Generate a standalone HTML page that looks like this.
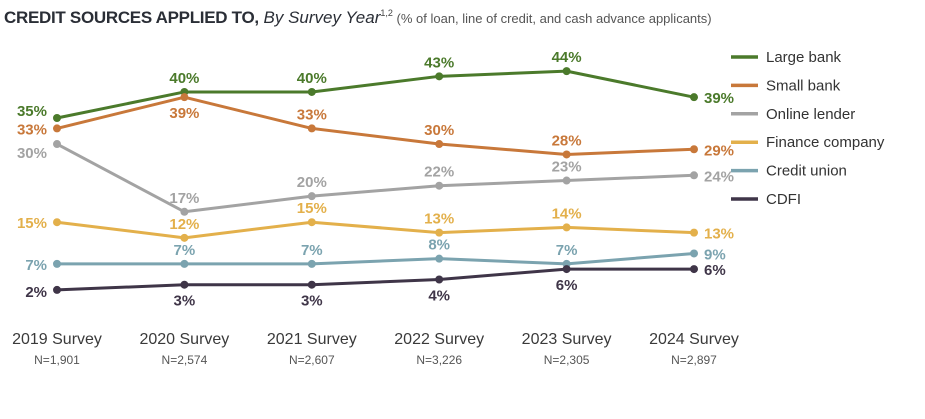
<!DOCTYPE html>
<html><head><meta charset="utf-8"><style>
body{margin:0;background:#fff;font-family:"Liberation Sans",sans-serif;}
svg text{font-family:"Liberation Sans",sans-serif;}
</style></head><body>
<svg id="chart" width="925" height="414" viewBox="0 0 925 414">
<text x="4" y="23"><tspan font-weight="bold" font-size="17" fill="#2a2e36" letter-spacing="-0.3">CREDIT SOURCES APPLIED TO,</tspan><tspan font-style="italic" font-size="17" fill="#2a2e36"> By Survey Year</tspan><tspan font-size="9" dy="-7" fill="#444">1,2</tspan><tspan font-size="13" dy="7" fill="#555">  (% of loan, line of credit, and cash advance applicants)</tspan></text>
<g id="plot"></g>
<g id="legend"></g>
</svg>
<script>
const categories=["2019 Survey","2020 Survey","2021 Survey","2022 Survey","2023 Survey","2024 Survey"];
const sampleSizes=["N=1,901","N=2,574","N=2,607","N=3,226","N=2,305","N=2,897"];
const seriesNames=["Large bank","Small bank","Online lender","Finance company","Credit union","CDFI"];
const largeBank=[35,40,40,43,44,39];
const smallBank=[33,39,33,30,28,29];
const onlineLender=[30,17,20,22,23,24];
const financeCompany=[15,12,15,13,14,13];
const creditUnion=[7,7,7,8,7,9];
const cdfi=[2,3,3,4,6,6];
const colors=["#4b7a2b","#c8783a","#a3a3a3","#e3b04b","#7ba3af","#3f3548"];
const labelSides=[["lu","a","a","a","a","r"],["l","b","a","a","a","r"],["ld","a","a","a","a","r"],["l","a","a","a","a","r"],["l","a","a","a","a","r"],["ld2","b","b","b","b","r"]];
const allSeries=[largeBank,smallBank,onlineLender,financeCompany,creditUnion,cdfi];
const NS="http://www.w3.org/2000/svg";
function xs(i){return 57+i*127.4;}
function ys(v){return 118+(35-v)*5.21;}
const plot=document.getElementById('plot');
function mk(tag,attrs,parent){const e=document.createElementNS(NS,tag);for(const k in attrs)e.setAttribute(k,attrs[k]);parent.appendChild(e);return e;}
categories.forEach((c,i)=>{
  const t=mk('text',{x:xs(i),y:344,'text-anchor':'middle','font-size':16,fill:'#3a3a3a'},plot);t.textContent=c;
  
  
  const n=mk('text',{x:xs(i),y:364,'text-anchor':'middle','font-size':12,fill:'#555'},plot);n.textContent=sampleSizes[i];
  
  
});
allSeries.forEach((s,si)=>{
  const g=mk('g',{},plot);
  
  
  const p=mk('polyline',{points:s.map((v,i)=>xs(i)+','+ys(v)).join(' '),fill:'none',stroke:colors[si],'stroke-width':3,'stroke-linejoin':'round'},g);
  
  
  s.forEach((v,i)=>{
    const c=mk('circle',{cx:xs(i),cy:ys(v),r:4,fill:colors[si]},g);
    
    
    const side=labelSides[si][i];
    let x=xs(i),y=ys(v),a='middle';
    if(side==='l'){x-=10;y+=6;a='end';}
    else if(side==='lu'){x-=10;y-=2;a='end';}
    else if(side==='ld'){x-=10;y+=14;a='end';}
    else if(side==='ld2'){x-=10;y+=7;a='end';}
    else if(side==='r'){x+=10;y+=6;a='start';}
    else if(side==='a'){y-=9;}else{y+=21;}
    const t=mk('text',{x:x,y:y,'text-anchor':a,'font-size':15,'font-weight':'bold',fill:colors[si]},g);
    t.textContent=v+'%';
    
    
  });
});
const lg=document.getElementById('legend');


seriesNames.forEach((n,i)=>{
  const y=57+i*28.4;
  const g=mk('g',{},lg);
  
  
  mk('line',{x1:731,x2:758,y1:y,y2:y,stroke:colors[i],'stroke-width':3.5},g);
  const t=mk('text',{x:766,y:y+5,'font-size':15,fill:'#333'},g);t.textContent=n;
});
</script>
</body></html>
